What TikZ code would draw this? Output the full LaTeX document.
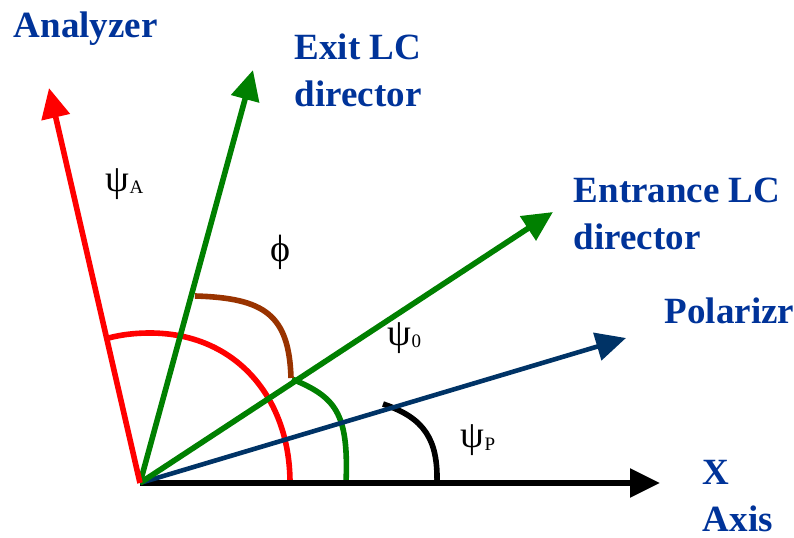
\documentclass[tikz,border=0pt]{standalone}
\usepackage{fontspec}
\setmainfont{Liberation Serif}
\usetikzlibrary{arrows.meta}

\definecolor{labelblue}{RGB}{0,51,153}
\definecolor{polblue}{RGB}{0,51,102}
\definecolor{lcgreen}{RGB}{0,128,0}
\definecolor{phibrown}{RGB}{153,51,0}

\newcommand{\angsym}[2]{{\fontsize{19}{21}\selectfont #1}{\fontsize{9.5}{11}\selectfont\raisebox{-1.5pt}{#2}}}

\begin{document}
\begin{tikzpicture}[x=0.5pt, y=0.5pt, line width=2.8pt,
  vec/.style={-{Triangle[length=15pt,width=14pt]}},
  lbl/.style={inner sep=0pt, anchor=north west, align=left, text=labelblue,
    font=\fontsize{18.5}{23.5}\selectfont\bfseries},
  ang/.style={inner sep=0pt, anchor=base west}]
  \useasboundingbox (0,0) rectangle (794,537);

  \coordinate (O)  at (140,54);
  \coordinate (X)  at (660,54);
  \coordinate (An) at (49,449);
  \coordinate (Ex) at (253,467);
  \coordinate (En) at (553,325);
  \coordinate (Po) at (626,199);

  % angle arcs
  \coordinate (R1) at (290,54);
  \coordinate (R2) at (105,198);
  \draw[red] (R1) .. controls (290,140) and (235,204) .. (150,204)
    .. controls (130,204) and (115,201) .. (R2);
  \coordinate (G1) at (346,54);
  \coordinate (G2) at (292,158);
  \draw[lcgreen] (G1) .. controls (349,125) and (335,140) .. (G2);
  \coordinate (B1) at (195,241);
  \coordinate (B2) at (291,159);
  \draw[phibrown] (B1) .. controls (265,239) and (289,222) .. (B2);
  \coordinate (K1) at (383,133);
  \coordinate (K2) at (437,54);
  \draw (K1) .. controls (425,119) and (438,97) .. (K2);

  % directions
  \draw[vec] (O) -- (X);
  \draw[vec, polblue, line width=2.3pt] (O) -- (Po);
  \draw[vec, lcgreen] (O) -- (En);
  \draw[vec, lcgreen] (O) -- (Ex);
  \draw[vec, red] (O) -- (An);

  \node[lbl] (anl) at (11,528) {Analyzer};
  \node[lbl] (exl) at (292,506) {Exit LC\\director};
  \node[lbl] (enl) at (571,362) {Entrance LC\\director};
  \node[lbl] (pol) at (662,242) {Polarizr};
  \node[lbl] (xl)  at (700,80)  {X\\Axis};

  \node[ang] (psA) at (103,346) {\angsym{ψ}{A}};
  \node[ang] (psO) at (385,192) {\angsym{ψ}{0}};
  \node[ang] (psP) at (458,90)  {\angsym{ψ}{P}};
  \node[inner sep=0pt] (phi) at (280,285) {\fontsize{19}{21}\selectfont ϕ};
\end{tikzpicture}
\end{document}
